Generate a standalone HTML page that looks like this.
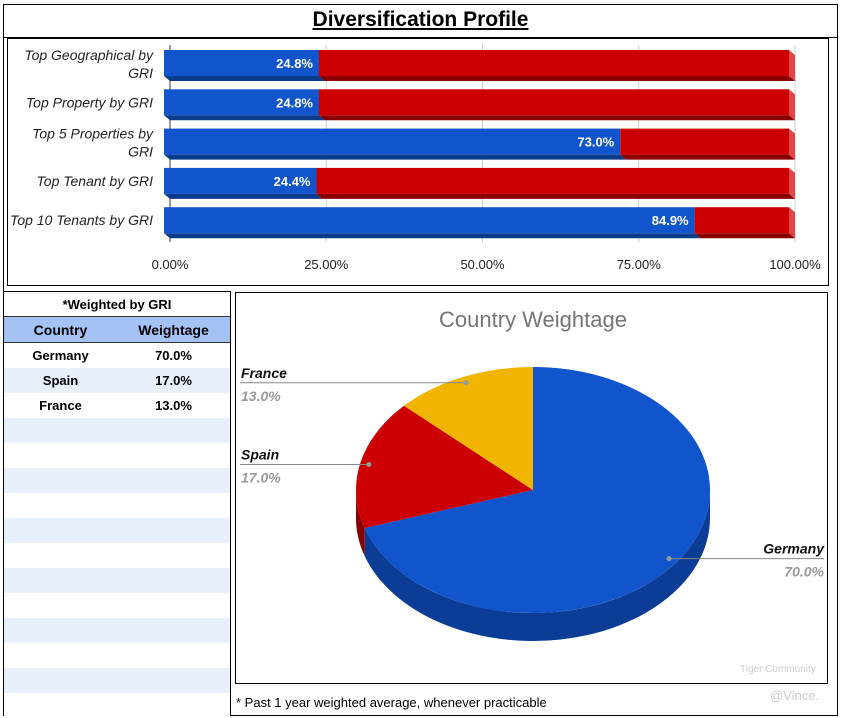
<!DOCTYPE html>
<html><head><meta charset="utf-8"><style>
body{margin:0;width:841px;height:717px;background:#fff;font-family:"Liberation Sans",sans-serif;position:relative;overflow:hidden}
.abs{position:absolute}
</style></head><body>
<div class="abs" style="left:3px;top:4px;width:833px;height:710px;border:1.5px solid #000"></div>
<div class="abs" style="left:0;top:8px;width:841px;text-align:center;font-size:21px;font-weight:bold;text-decoration:underline;font-family:'Liberation Sans',sans-serif">Diversification Profile</div>
<div class="abs" style="left:3px;top:37px;width:835px;height:1px;background:#000"></div>
<div class="abs" style="left:7px;top:38px;width:820px;height:246px;border:1px solid #000"></div>
<svg class="abs" id="bar" style="left:0;top:0" width="841" height="290"></svg>
<div class="abs" style="left:3px;top:291px;width:227px;height:424px;border-right:1.5px solid #000;border-top:1.5px solid #000"></div>
<div id="tbl" class="abs" style="left:4px;top:292px;width:226px;font-size:13px;font-weight:bold;font-family:'Liberation Sans',sans-serif"></div>
<div class="abs" style="left:235px;top:292px;width:591px;height:390px;border:1.5px solid #000"></div>
<svg class="abs" id="pie" style="left:0;top:0" width="841" height="717"></svg>
<div class="abs" style="left:236px;top:695px;font-size:13px">* Past 1 year weighted average, whenever practicable</div>
<div class="abs" style="left:740px;top:664px;font-size:10px;color:#ccc">Tiger Community</div>
<div class="abs" style="left:770px;top:688px;font-size:13px;color:#ccc">@Vince.</div>
<script>
const categories=["Top Geographical by|GRI","Top Property by GRI","Top 5 Properties by|GRI","Top Tenant by GRI","Top 10 Tenants by GRI"];
const blueValues=[24.8,24.8,73.0,24.4,84.9];
const redValues=[75.2,75.2,27.0,75.6,15.1];
const tickValues=[0,25,50,75,100];
const tickLabels=["0.00%","25.00%","50.00%","75.00%","100.00%"];
const countries=["Germany","Spain","France"];
const weights=[70.0,17.0,13.0];
const NS="http://www.w3.org/2000/svg";
function mk(p,t,a){const e=document.createElementNS(NS,t);for(const k in a)e.setAttribute(k,a[k]);p.appendChild(e);return e;}
const bar=document.getElementById('bar');
const xs=v=>170+v*6.25;
const ys=i=>50+i*39.3;
tickValues.forEach((v,i)=>{
 const g=mk(bar,'line',{x1:xs(v),x2:xs(v),y1:45,y2:242,stroke:i==0?'#333':'#ccc','stroke-width':1});
 
 
 const t=mk(bar,'text',{x:xs(v),y:269,'text-anchor':'middle','font-size':13,fill:'#222'});t.textContent=tickLabels[i];
 
 
});
categories.forEach((c,i)=>{
 const y=ys(i),h=26,d=5,o=6;
 let x0=xs(0)-o;
 [[blueValues[i],'#1155cc','#0b3c8c'],[redValues[i],'#cc0000','#8a0000']].forEach(([v,col,dk],k)=>{
  const x1=x0+v*6.25;
  const s=mk(bar,'polygon',{points:`${x0},${y+h} ${x1},${y+h} ${x1+o},${y+h+d} ${x0+o},${y+h+d}`,fill:dk});
  
  
  const r=mk(bar,'rect',{x:x0,y:y,width:x1-x0,height:h,fill:col});
  
  
  if(k==1){const sd=mk(bar,'polygon',{points:`${x1},${y} ${x1+o},${y+d} ${x1+o},${y+h+d} ${x1},${y+h}`,fill:'#e04848'});}
  if(k==0){const t=mk(bar,'text',{x:x1-6,y:y+h/2+5,'text-anchor':'end','font-size':13,'font-weight':'bold',fill:'#fff'});t.textContent=v.toFixed(1)+'%';
   
   }
  x0=x1;
 });
 const lines=c.split('|');
 lines.forEach((l,j)=>{
  const t=mk(bar,'text',{x:153,y:y+h/2+5+(lines.length>1?(j==0?-8:10):0),'text-anchor':'end','font-size':14,'font-style':'italic',fill:'#222'});t.textContent=l;
  
  
 });
});
const tbl=document.getElementById('tbl');
function row(h,bg,cells,name){const r=document.createElement('div');r.style.cssText=`height:${h}px;background:${bg};display:flex;align-items:center`;
 
 
 cells.forEach(c=>{const d=document.createElement('div');d.style.cssText='width:50%;text-align:center';d.textContent=c;r.appendChild(d);});tbl.appendChild(r);return r;}
const tt=row(24,'#fff',[],'table-title');tt.style.justifyContent='center';tt.textContent='*Weighted by GRI';
const hd=row(25,'#a4c2f4',['Country','Weightage'],'table-header');hd.style.borderTop='1px solid #333';hd.style.borderBottom='1.5px solid #333';hd.style.fontSize='14px';
for(let i=0;i<15;i++){const r=row(25,i%2?'#e8f0fe':'#fff',i<countries.length?[countries[i],weights[i].toFixed(1)+'%']:['',''],'table-row');}
const pie=document.getElementById('pie');
const cx=533,cy=490,rx=177,ry=123,dep=28;
const cols=['#1155cc','#cc0000','#f1b400'],dks=['#0b3c96','#8a0000','#a07800'];
const pt=(a,dy=0)=>[cx+rx*Math.sin(a*Math.PI/180),cy-ry*Math.cos(a*Math.PI/180)+dy];
const title=mk(pie,'text',{x:533,y:327,'text-anchor':'middle','font-size':22,fill:'#757575'});title.textContent='Country Weightage';


let acc=0;const angs=weights.map(w=>{const a=[acc,acc+w*3.6];acc+=w*3.6;return a;});
angs.forEach(([a,b],i)=>{
 const s=Math.max(a,90),e=Math.min(b,270);
 if(e>s){const p1=pt(s),p2=pt(e),p3=pt(e,dep),p4=pt(s,dep);
  const p=mk(pie,'path',{d:`M${p1} A${rx},${ry} 0 0 1 ${p2} L${p3} A${rx},${ry} 0 0 0 ${p4} Z`,fill:dks[i]});
  
  }
});
angs.forEach(([a,b],i)=>{
 const p1=pt(a),p2=pt(b);
 const p=mk(pie,'path',{d:`M${cx},${cy} L${p1} A${rx},${ry} 0 ${b-a>180?1:0} 1 ${p2} Z`,fill:cols[i]});
 
 
});
angs.forEach(([a,b],i)=>{
 const m=(a+b)/2,mx=cx+rx*0.95*Math.sin(m*Math.PI/180),my=cy-ry*0.95*Math.cos(m*Math.PI/180);
 const right=m<180;const lx=right?824:240;
 const ln=mk(pie,'line',{x1:mx,y1:my,x2:lx,y2:my,stroke:'#888','stroke-width':1});
 
 
 const dot=mk(pie,'circle',{cx:mx,cy:my,r:2.5,fill:'#999'});
 
 
 const t=mk(pie,'text',{x:right?lx:241,y:my-5,'text-anchor':right?'end':'start','font-size':14,'font-weight':'bold','font-style':'italic',fill:'#111'});t.textContent=countries[i];
 
 
 const v=mk(pie,'text',{x:right?lx:241,y:my+18,'text-anchor':right?'end':'start','font-size':14,'font-weight':'bold','font-style':'italic',fill:'#999'});v.textContent=weights[i].toFixed(1)+'%';
 
 
});
</script>
</body></html>
